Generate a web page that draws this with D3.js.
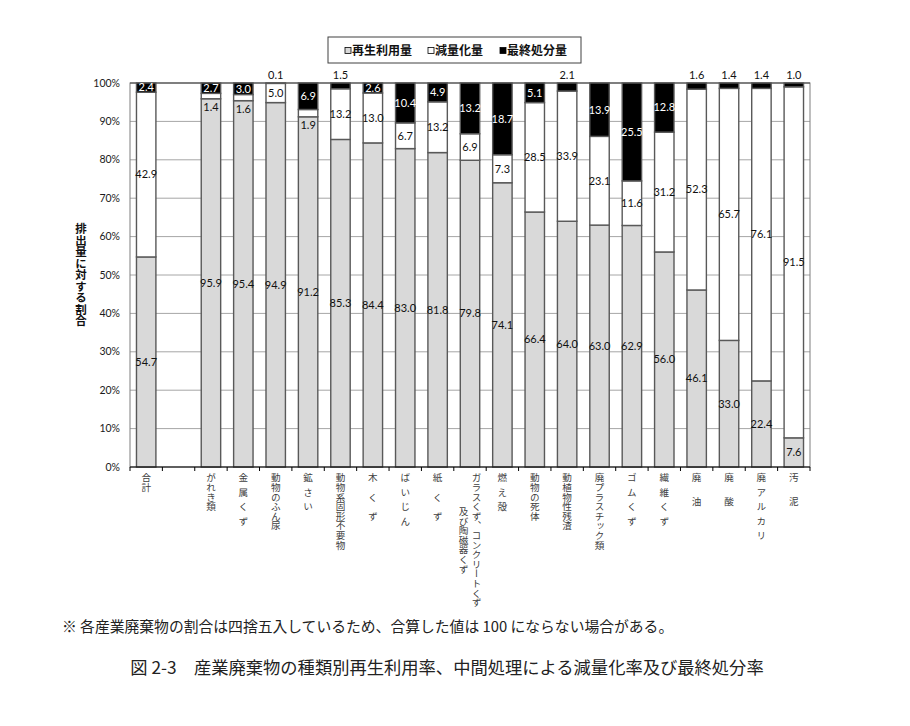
<!DOCTYPE html>
<html><head><meta charset="utf-8">
<script src="https://cdn.jsdelivr.net/npm/d3@7/dist/d3.min.js"></script>
<style>
body{margin:0;background:#fff;}
svg{display:block;}
</style></head>
<body>
<svg id="chart" width="910" height="726"></svg>
<script>
const categories = ["合計","","がれき類","金 属 く ず","動物のふん尿","鉱 さ い","動物系固形不要物","木　く　ず","ば い じ ん","紙　く　ず","ガラスくず、コンクリートくず\n及び陶磁器くず","燃 え 殻","動物の死体","動植物性残渣","廃プラスチック類","ゴ ム く ず","繊 維 く ず","廃　 油","廃　 酸","廃 ア ル カ リ","汚　 泥"];
const recycled = [54.7,null,95.9,95.4,94.9,91.2,85.3,84.4,83.0,81.8,79.8,74.1,66.4,64.0,63.0,62.9,56.0,46.1,33.0,22.4,7.6];
const reduced  = [42.9,null,1.4,1.6,5.0,1.9,13.2,13.0,6.7,13.2,6.9,7.3,28.5,33.9,23.1,11.6,31.2,52.3,65.7,76.1,91.5];
const finalDisp= [2.4,null,2.7,3.0,0.1,6.9,1.5,2.6,10.4,4.9,13.2,18.7,5.1,2.1,13.9,25.5,12.8,1.6,1.4,1.4,1.0];
const seriesNames = ["再生利用量","減量化量","最終処分量"];
const seriesColors = ["#d9d9d9","#ffffff","#000000"];
const yTicks = [0,0.1,0.2,0.3,0.4,0.5,0.6,0.7,0.8,0.9,1.0];
const note = "※ 各産業廃棄物の割合は四捨五入しているため、合算した値は 100 にならない場合がある。";
const caption = "図 2-3　産業廃棄物の種類別再生利用率、中間処理による減量化率及び最終処分率";

const svg = d3.select("#chart");
const M = {left:130, right:810, top:83, bottom:467};
const keys = ["r","d","f"];
const rows = categories.map((c,i)=>({i:i, cat:c, r:recycled[i]||0, d:reduced[i]||0, f:finalDisp[i]||0, empty: recycled[i]==null}));
const x = d3.scaleBand().domain(rows.map(d=>d.i)).range([M.left,M.right]).paddingInner(0.4).paddingOuter(0.2);
const y = d3.scaleLinear().domain([0,1]).range([M.bottom,M.top]);

// gridlines
svg.append("g").selectAll("line").data(yTicks.filter(t=>t>0 && t<1)).join("line")
  .attr("x1",M.left).attr("x2",M.right).attr("y1",d=>y(d)).attr("y2",d=>y(d))
  .attr("stroke","#a6a6a6").attr("stroke-width",1);

// plot border
svg.append("rect").attr("x",M.left).attr("y",M.top).attr("width",M.right-M.left).attr("height",M.bottom-M.top)
  .attr("fill","none").attr("stroke","#7f7f7f").attr("stroke-width",1);
svg.append("line").attr("x1",M.left).attr("x2",M.right).attr("y1",M.top).attr("y2",M.top).attr("stroke","#404040");

// stack
const data = rows.filter(d=>!d.empty);
const stack = d3.stack().keys(keys).offset(d3.stackOffsetExpand)(data);
const g = svg.append("g");
stack.forEach((layer,li)=>{
  g.selectAll(null).data(layer).join("rect")
    .attr("x",d=>x(d.data.i)).attr("width",x.bandwidth())
    .attr("y",d=>y(d[1])).attr("height",d=>Math.max(0,y(d[0])-y(d[1])))
    .attr("fill",seriesColors[li]).attr("stroke","#595959").attr("stroke-width",1.4);
});

// x axis
const xa = svg.append("g");
xa.append("line").attr("x1",M.left).attr("x2",M.right).attr("y1",M.bottom).attr("y2",M.bottom).attr("stroke","#000").attr("stroke-width",1.2);
const step = x.step();
const bounds = d3.range(categories.length+1).map(k=>M.left + k*step);
xa.selectAll("line.t").data(bounds).join("line").attr("class","t")
  .attr("x1",d=>d).attr("x2",d=>d).attr("y1",M.bottom).attr("y2",M.bottom+4).attr("stroke","#000");

// y axis labels
svg.append("g").selectAll("text").data(yTicks).join("text")
  .attr("x",120).attr("y",d=>y(d)).attr("dy","0.35em").attr("text-anchor","end")
  .attr("font-family","Lato, 'Noto Sans', sans-serif").attr("font-size",10.5).attr("fill","#1a1a1a")
  .text(d=>d3.format(".0%")(d));

// y title
svg.append("text").attr("x",81).attr("y",275).attr("text-anchor","middle")
  .style("writing-mode","vertical-rl")
  .attr("font-family","'Noto Sans CJK JP', sans-serif").attr("font-size",11.5).attr("font-weight","bold").attr("fill","#111")
  .text("排出量に対する割合");

// category labels (vertical)
const catG = svg.append("g");
rows.forEach(d=>{
  if(!d.cat) return;
  const lines = d.cat.split("\n");
  const cx = x(d.i)+x.bandwidth()/2;
  const fs = 9.6, lineGap = 13;
  const maxLen = d3.max(lines, l=>l.length);
  lines.forEach((l,li)=>{
    const lx = cx + (lines.length-1)*lineGap/2 - li*lineGap;
    const yStart = 473 + (lines.length>1 ? (maxLen - l.length)*fs/2 : 0);
    catG.append("text").attr("x",lx).attr("y",yStart)
      .style("writing-mode","vertical-rl").style("word-spacing","0.28em")
      .attr("font-family","'Noto Sans CJK JP', sans-serif").attr("font-size",fs).attr("fill","#404040")
      .text(l);
  });
});

// data labels
const lab = svg.append("g").attr("font-family","Lato, 'Noto Sans', sans-serif").attr("font-size",11).attr("text-anchor","middle");
stack.forEach((layer,li)=>{
  layer.forEach(d=>{
    const v = d.data[keys[li]];
    const cx = x(d.data.i)+x.bandwidth()/2;
    let ly = (y(d[0])+y(d[1]))/2, col = li===2 ? "#ffffff" : "#111";
    if(li===2 && v<2.2){ ly = y(1)-8; col="#111"; }
    if(li===1 && v<2.5){ ly = y(d[0])+8; }
    lab.append("text").attr("x",cx).attr("y",ly).attr("dy","0.35em").attr("fill",col).text(d3.format(".1f")(v));
  });
});

// legend
const lg = svg.append("g");
lg.append("rect").attr("x",328).attr("y",37).attr("width",253).attr("height",26).attr("fill","#fff").attr("stroke","#404040");
const legX = [345,428,500];
seriesNames.forEach((n,i)=>{
  lg.append("rect").attr("x",legX[i]).attr("y",47.5).attr("width",6).attr("height",6)
    .attr("fill",seriesColors[i]).attr("stroke","#000").attr("stroke-width",0.8);
  lg.append("text").attr("x",legX[i]+7).attr("y",50.5).attr("dy","0.35em")
    .attr("font-family","'Noto Sans CJK JP', sans-serif").attr("font-size",12).attr("font-weight","bold").attr("fill","#111")
    .text(n);
});

// footnote and caption
svg.append("text").attr("x",62).attr("y",627).attr("dy","0.35em")
  .attr("font-family","'Noto Sans CJK JP', sans-serif").attr("font-size",14.8).attr("fill","#222").text(note);
svg.append("text").attr("x",447).attr("y",668).attr("dy","0.35em").attr("text-anchor","middle")
  .attr("font-family","'Noto Sans CJK JP', sans-serif").attr("font-size",17.3).attr("fill","#222").text(caption);
</script>
</body></html>
